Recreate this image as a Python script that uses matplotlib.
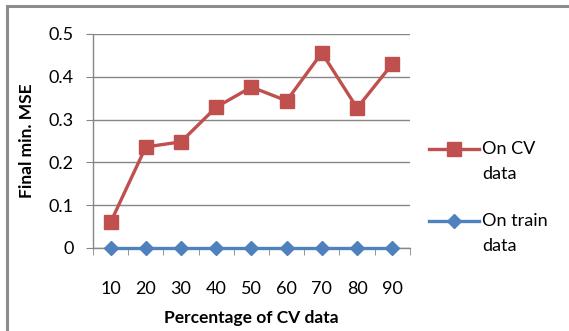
import matplotlib
matplotlib.use('Agg')
import matplotlib.pyplot as plt
from matplotlib.legend_handler import HandlerLine2D
from matplotlib.patches import Rectangle
import numpy as np

plt.rcParams['font.family'] = ['Lato', 'DejaVu Sans']

# Final minimum MSE against the share of data held out for cross-validation
cv_percent = ['10', '20', '30', '40', '50', '60', '70', '80', '90']
mse_cv = [0.06, 0.236, 0.248, 0.329, 0.376, 0.344, 0.456, 0.327, 0.43]
mse_train = [0, 0, 0, 0, 0, 0, 0, 0, 0]
y_ticks = [0, 0.1, 0.2, 0.3, 0.4, 0.5]

RED = '#C0504D'
BLUE = '#4F81BD'
GRID = '#868686'


class TopLineHandler(HandlerLine2D):
    """Legend handle lined up with the first line of a two-line label."""

    def __init__(self, raise_by, **kw):
        super().__init__(**kw)
        self.raise_by = raise_by

    def create_artists(self, legend, orig_handle, xdescent, ydescent,
                       width, height, fontsize, trans):
        return super().create_artists(legend, orig_handle, xdescent,
                                      ydescent - 2 * self.raise_by,
                                      width, height, fontsize, trans)


fig = plt.figure(figsize=(5.69, 3.31), dpi=100)
ax = fig.add_axes([0.1634, 0.2508, 0.557, 0.6465])

x = np.arange(len(cv_percent))
cv_line, = ax.plot(x, mse_cv, color=RED, linewidth=2.4, marker='s', markersize=9.5,
                   markerfacecolor=RED, markeredgecolor=RED, label='On CV\ndata',
                   zorder=4, clip_on=False)
train_line, = ax.plot(x, mse_train, color=BLUE, linewidth=2.4, marker='D', markersize=7,
                      markerfacecolor=BLUE, markeredgecolor=BLUE, label='On train\ndata',
                      zorder=4, clip_on=False)

ax.set_xlim(-0.5, len(cv_percent) - 0.5)
ax.set_ylim(0, 0.5)
ax.set_yticks(y_ticks)
ax.set_yticklabels([f'{v:g}' for v in y_ticks])
ax.set_xticks(x)
ax.set_xticklabels(cv_percent)
ax.set_xticks(np.arange(len(cv_percent) + 1) - 0.5, minor=True)

ax.tick_params(axis='x', which='major', length=0, pad=24, labelsize=13)
ax.tick_params(axis='x', which='minor', length=5, color=GRID, direction='out')
ax.tick_params(axis='y', length=5, color=GRID, pad=9, labelsize=13)

ax.grid(axis='y', color=GRID, linewidth=1.0, zorder=0)
ax.set_axisbelow(True)
for side in ('top', 'right'):
    ax.spines[side].set_visible(False)
for side in ('left', 'bottom'):
    ax.spines[side].set_color(GRID)
    ax.spines[side].set_linewidth(1.0)

ax.set_ylabel('Final min. MSE', fontsize=12.5, fontweight='bold', labelpad=10)
ax.set_xlabel('Percentage of CV data', fontsize=12.5, fontweight='bold', labelpad=9)

leg = ax.legend(handles=[cv_line, train_line], loc='center left',
                bbox_to_anchor=(0.725, 0.403), bbox_transform=fig.transFigure,
                frameon=False, fontsize=13, handlelength=2.8, handletextpad=0.15,
                labelspacing=1.75,
                handler_map={cv_line: TopLineHandler(9.5), train_line: TopLineHandler(9.5)})
for t in leg.get_texts():
    t.set_linespacing(1.65)

# Outer chart frame
fig.patches.append(Rectangle((7 / 569, -0.05), 1.2, 1 - 6 / 331 + 0.05,
                             transform=fig.transFigure, fill=False,
                             edgecolor='#8c8c8c', linewidth=2.2))

fig.savefig('out.png', dpi=100)
